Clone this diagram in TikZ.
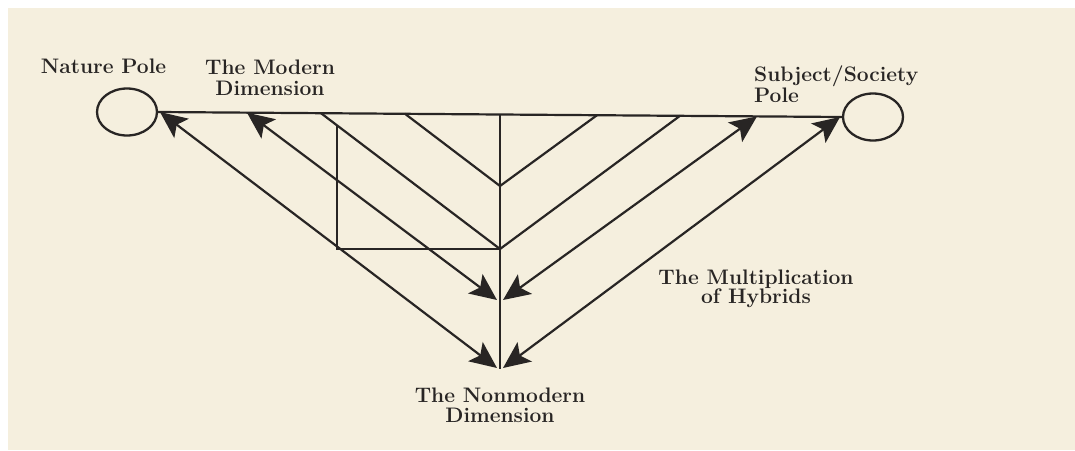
\documentclass[tikz,border=0pt]{standalone}
\usetikzlibrary{arrows.meta,shapes.geometric}
\definecolor{paper}{RGB}{245,239,222}
\definecolor{ink}{RGB}{40,37,36}
\tikzset{
  pole/.style={ellipse,draw=ink,line width=2.3pt,minimum width=60pt,minimum height=47pt,inner sep=0pt},
  rule/.style={draw=ink,line width=2.2pt},
  biarrow/.style={draw=ink,line width=2.2pt,
    {Stealth[length=27pt,width=24pt,inset=6pt]}-{Stealth[length=27pt,width=24pt,inset=6pt]}},
  lbl/.style={font=\fontsize{21}{21}\selectfont\bfseries,text=ink,inner sep=0pt,align=center},
}
\begin{document}
\begin{tikzpicture}[x=1pt,y=-1pt]
\useasboundingbox (0,0) rectangle (1075,450);
\fill[paper] (8,8) rectangle (1075,450);
% poles
\node[pole] (nat) at (127,112) {};
\node[pole] (soc) at (873,117) {};
% points on the top line
\coordinate (a1) at (160,112);
\coordinate (a2) at (247,112.7);
\coordinate (v2l) at (321,113.2);
\coordinate (v1l) at (405,113.8);
\coordinate (vtop) at (500,114.5);
\coordinate (v1r) at (597,115.2);
\coordinate (v2r) at (680,115.8);
\coordinate (a3) at (757,116.4);
\coordinate (a4) at (840,117);
% inner vertices
\coordinate (v1) at (500,186);
\coordinate (v2) at (500,249);
\coordinate (r1) at (337,125.3);
\coordinate (r2) at (337,249);
% convergence points
\coordinate (mL) at (497,300);
\coordinate (mR) at (503,300);
\coordinate (bL) at (497,368);
\coordinate (bR) at (503,368);
\coordinate (bot) at (500,369);
% top line
\draw[rule] (nat.east) -- (soc.west);
% central vertical
\draw[rule] (vtop) -- (bot);
% upper V
\draw[rule] (v1l) -- (v1) -- (v1r);
% second V
\draw[rule] (v2l) -- (v2) -- (v2r);
% rectangle part
\draw[rule] (r1) -- (r2) -- (v2);
% double arrows
\draw[biarrow] (a1) -- (bL);
\draw[biarrow] (a2) -- (mL);
\draw[biarrow] (a3) -- (mR);
\draw[biarrow] (a4) -- (bR);
% labels
\node[lbl,anchor=north] (natlbl) at (103.5,58.4) {Nature Pole};
\node[lbl,anchor=north] (modlbl) at (270,59.4) {The Modern\\Dimension};
\node[lbl,anchor=north west,align=left,font=\fontsize{21}{18}\selectfont\bfseries] (soclbl) at (754,65.8) {Subject/Society\\Pole};
\node[lbl,anchor=north,font=\fontsize{21}{19}\selectfont\bfseries] (hyblbl) at (756,270) {The Multiplication\\of Hybrids};
\node[lbl,anchor=north,font=\fontsize{21}{20}\selectfont\bfseries] (nonlbl) at (500,387.4) {The Nonmodern\\Dimension};
\end{tikzpicture}
\end{document}
